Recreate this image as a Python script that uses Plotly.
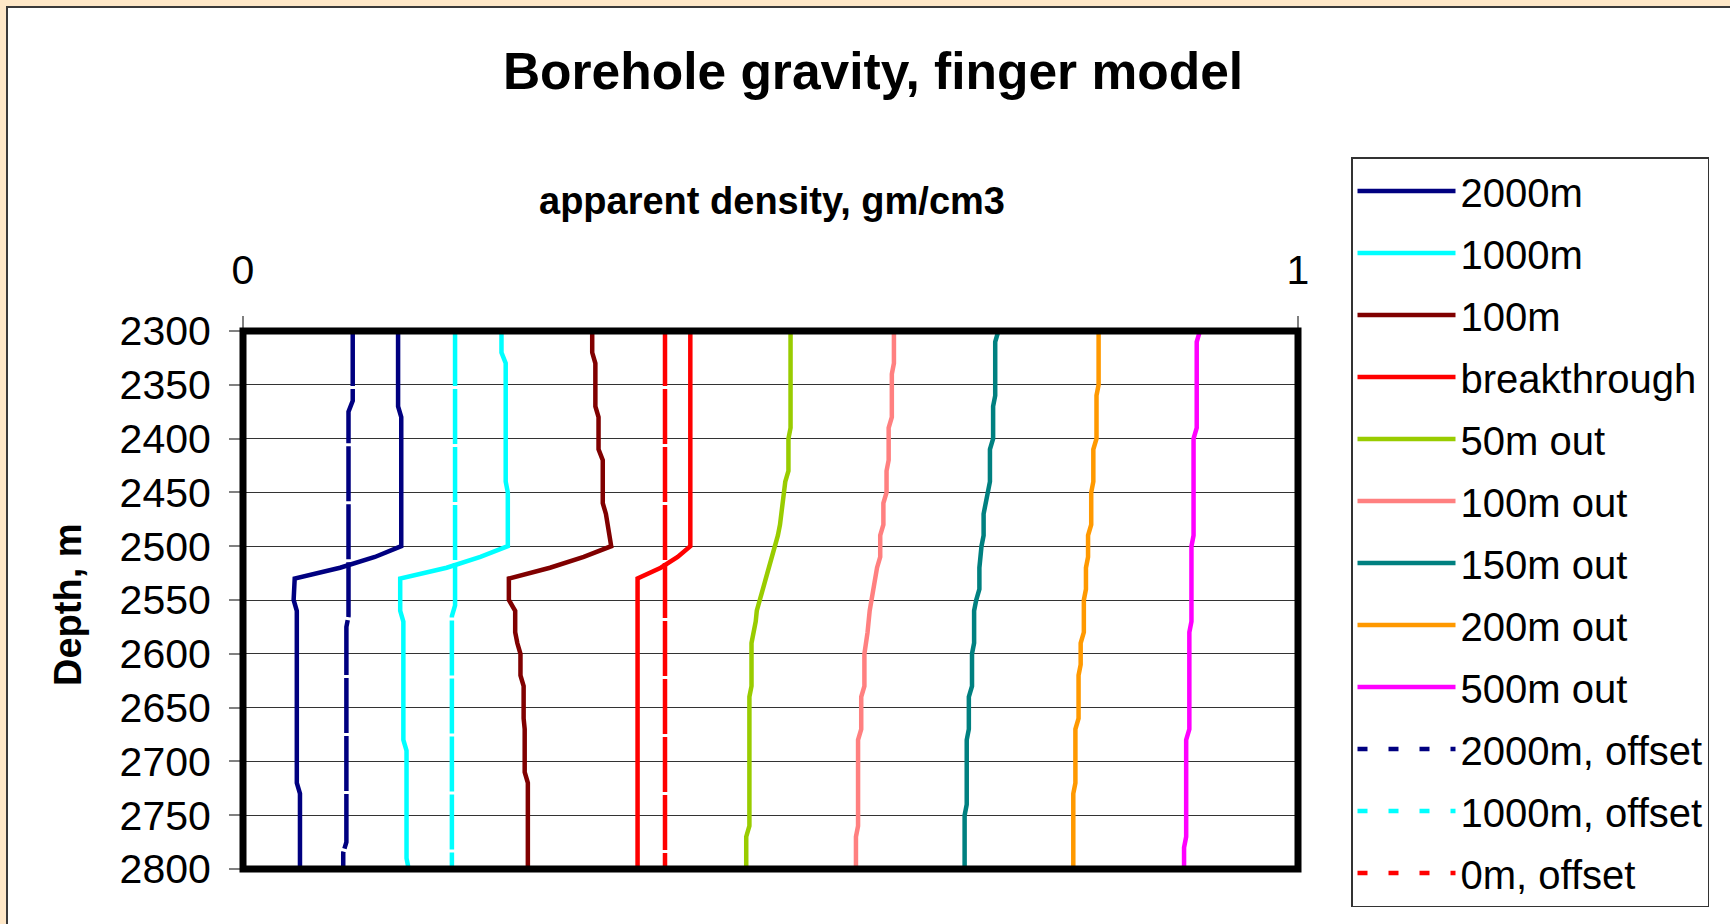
import plotly.graph_objects as go

FONT = "Arial, Liberation Sans, sans-serif"

# depth (m) and apparent density (gm/cm3) at the break points of each curve
D_2000 = [2300, 2370, 2380, 2500, 2510, 2520, 2530, 2550, 2560, 2720, 2730, 2800]
V_2000 = [0.147, 0.147, 0.150, 0.150, 0.125, 0.092, 0.049, 0.048, 0.051, 0.051, 0.054, 0.054]

D_1000 = [2300, 2320, 2330, 2440, 2450, 2500, 2510, 2520, 2530, 2560, 2570, 2680, 2690, 2790, 2800]
V_1000 = [0.245, 0.245, 0.249, 0.249, 0.251, 0.251, 0.225, 0.193, 0.149, 0.149, 0.152, 0.152, 0.155, 0.155, 0.157]

D_100 = [2300, 2320, 2330, 2370, 2380, 2410, 2420, 2460, 2470, 2480, 2500, 2510, 2520,
         2530, 2550, 2560, 2580, 2590, 2600, 2620, 2630, 2660, 2670, 2710, 2720, 2800]
V_100 = [0.331, 0.331, 0.334, 0.334, 0.337, 0.337, 0.341, 0.341, 0.344, 0.346, 0.349, 0.323, 0.291,
         0.252, 0.252, 0.258, 0.258, 0.260, 0.263, 0.263, 0.266, 0.266, 0.267, 0.267, 0.270, 0.270]

D_BREAK = [2300, 2500, 2510, 2520, 2530, 2800]
V_BREAK = [0.424, 0.424, 0.412, 0.396, 0.374, 0.374]

D_50OUT = [2300, 2390, 2400, 2430, 2440, 2460, 2470, 2480, 2490, 2500, 2510, 2520,
           2530, 2540, 2550, 2560, 2570, 2580, 2590, 2630, 2640, 2760, 2770, 2800]
V_50OUT = [0.519, 0.519, 0.517, 0.517, 0.514, 0.512, 0.511, 0.509, 0.507, 0.504, 0.501, 0.499,
           0.495, 0.492, 0.489, 0.487, 0.486, 0.484, 0.482, 0.482, 0.480, 0.480, 0.477, 0.477]

D_100OUT = [2300, 2330, 2340, 2380, 2390, 2420, 2430, 2450, 2460, 2480, 2490, 2510, 2520, 2530,
            2540, 2550, 2560, 2580, 2590, 2600, 2630, 2640, 2670, 2680, 2760, 2770, 2800]
V_100OUT = [0.617, 0.617, 0.615, 0.615, 0.612, 0.612, 0.610, 0.610, 0.607, 0.607, 0.604, 0.604, 0.601, 0.599,
            0.597, 0.595, 0.594, 0.592, 0.590, 0.589, 0.589, 0.586, 0.586, 0.583, 0.583, 0.581, 0.581]

D_150OUT = [2300, 2310, 2360, 2370, 2400, 2410, 2440, 2450, 2460, 2470, 2490, 2500, 2520,
            2540, 2550, 2560, 2590, 2600, 2630, 2640, 2670, 2680, 2740, 2750, 2800]
V_150OUT = [0.716, 0.713, 0.713, 0.711, 0.711, 0.708, 0.708, 0.706, 0.704, 0.702, 0.702, 0.700, 0.698,
            0.698, 0.695, 0.693, 0.693, 0.691, 0.691, 0.688, 0.688, 0.686, 0.686, 0.684, 0.684]

D_200OUT = [2300, 2350, 2360, 2400, 2410, 2440, 2450, 2480, 2490, 2510, 2520,
            2540, 2550, 2580, 2590, 2610, 2620, 2660, 2670, 2720, 2730, 2800]
V_200OUT = [0.811, 0.811, 0.809, 0.809, 0.806, 0.806, 0.804, 0.804, 0.801, 0.801, 0.799,
            0.799, 0.797, 0.797, 0.794, 0.794, 0.792, 0.792, 0.789, 0.789, 0.787, 0.787]

D_500OUT = [2300, 2310, 2390, 2400, 2490, 2500, 2570, 2580, 2670, 2680, 2770, 2780, 2800]
V_500OUT = [0.907, 0.904, 0.904, 0.901, 0.901, 0.899, 0.899, 0.897, 0.897, 0.894, 0.894, 0.892, 0.892]

D_2000_OFF = [2300, 2365, 2375, 2565, 2575, 2775, 2785, 2800]
V_2000_OFF = [0.104, 0.104, 0.100, 0.100, 0.098, 0.098, 0.095, 0.095]

D_1000_OFF = [2300, 2555, 2565, 2800]
V_1000_OFF = [0.201, 0.201, 0.198, 0.198]

D_0_OFF = [2300, 2800]
V_0_OFF = [0.400, 0.400]

SERIES = [
    ("2000m", D_2000, V_2000, "#000080", False),
    ("1000m", D_1000, V_1000, "#00FFFF", False),
    ("100m", D_100, V_100, "#800000", False),
    ("breakthrough", D_BREAK, V_BREAK, "#FF0000", False),
    ("50m out", D_50OUT, V_50OUT, "#99CC00", False),
    ("100m out", D_100OUT, V_100OUT, "#FF8080", False),
    ("150m out", D_150OUT, V_150OUT, "#008080", False),
    ("200m out", D_200OUT, V_200OUT, "#FF9900", False),
    ("500m out", D_500OUT, V_500OUT, "#FF00FF", False),
    ("2000m, offset", D_2000_OFF, V_2000_OFF, "#000080", True),
    ("1000m, offset", D_1000_OFF, V_1000_OFF, "#00FFFF", True),
    ("0m, offset", D_0_OFF, V_0_OFF, "#FF0000", True),
]

W, H = 1730, 924
L, R, T, B = 243, 1298, 331, 869  # plot area in px


def px_x(p):
    return (p - L) / (R - L)


def px_y(p):
    return (B - p) / (B - T)


fig = go.Figure()

for name, depth, vals, color, dashed in SERIES:
    fig.add_trace(
        go.Scatter(
            x=vals,
            y=depth,
            mode="lines",
            name=name,
            legendgroup=name,
            showlegend=not dashed,
            line=dict(color=color, width=4.5, dash="55px,3px" if dashed else "solid"),
        )
    )

# legend keys for the dashed curves use the short-dash style of the original
for name, depth, vals, color, dashed in SERIES:
    if dashed:
        fig.add_trace(
            go.Scatter(
                x=[None],
                y=[None],
                mode="lines",
                name=name,
                legendgroup=name,
                line=dict(color=color, width=4.5, dash="10px,21px"),
            )
        )

fig.update_layout(
    width=W,
    height=H,
    paper_bgcolor="#FFE8C8",
    plot_bgcolor="white",
    margin=dict(l=L, r=W - R, t=T, b=H - B, autoexpand=False),
    font=dict(family=FONT, color="black", size=40),
    title=dict(
        text="<b>Borehole gravity, finger model</b>",
        font=dict(size=51.5, family=FONT, color="black"),
        x=873 / W,
        xref="container",
        xanchor="center",
        y=1 - 71 / H,
        yref="container",
        yanchor="middle",
    ),
    xaxis=dict(
        range=[0, 1],
        side="top",
        tickvals=[0, 1],
        ticktext=["0", "1"],
        ticks="outside",
        ticklen=14,
        tickwidth=1.5,
        tickcolor="#808080",
        ticklabelstandoff=16,
        showgrid=False,
        zeroline=False,
        showline=False,
        tickfont=dict(size=41),
    ),
    yaxis=dict(
        range=[2800, 2300],
        tickvals=[2300, 2350, 2400, 2450, 2500, 2550, 2600, 2650, 2700, 2750, 2800],
        ticks="outside",
        ticklen=13,
        tickwidth=1.5,
        tickcolor="#808080",
        ticklabelstandoff=10,
        showgrid=True,
        gridcolor="#333333",
        gridwidth=1.2,
        zeroline=False,
        showline=False,
        tickfont=dict(size=41),
    ),
    legend=dict(
        xref="container",
        yref="container",
        x=1351 / W,
        y=1 - 157 / H,
        xanchor="left",
        yanchor="top",
        bgcolor="white",
        bordercolor="#333333",
        borderwidth=1.5,
        font=dict(size=40, family=FONT),
        itemwidth=98,
        tracegroupgap=7,
        maxheight=900,
    ),
    shapes=[
        # white chart panel with dark border over the beige page
        dict(
            type="rect", xref="paper", yref="paper",
            x0=px_x(7), x1=px_x(W + 20), y0=px_y(H + 20), y1=px_y(7),
            fillcolor="white", line=dict(color="#3a3a3a", width=2), layer="below",
        ),
        # heavy plot-area frame
        dict(
            type="rect", xref="paper", yref="paper",
            x0=0, x1=1, y0=0, y1=1,
            line=dict(color="black", width=7), layer="above",
        ),
    ],
    annotations=[
        dict(
            text="<b>apparent density, gm/cm3</b>",
            xref="paper", yref="paper",
            x=px_x(772), y=px_y(201),
            xanchor="center", yanchor="middle",
            showarrow=False, font=dict(size=38, family=FONT, color="black"),
        ),
        dict(
            text="<b>Depth, m</b>",
            xref="paper", yref="paper",
            x=px_x(68), y=px_y(605),
            xanchor="center", yanchor="middle",
            textangle=-90,
            showarrow=False, font=dict(size=38, family=FONT, color="black"),
        ),
    ],
)

fig.write_html(
    "out.html",
    config={"displayModeBar": False},
    post_script="document.body.style.margin = '0';",
)
